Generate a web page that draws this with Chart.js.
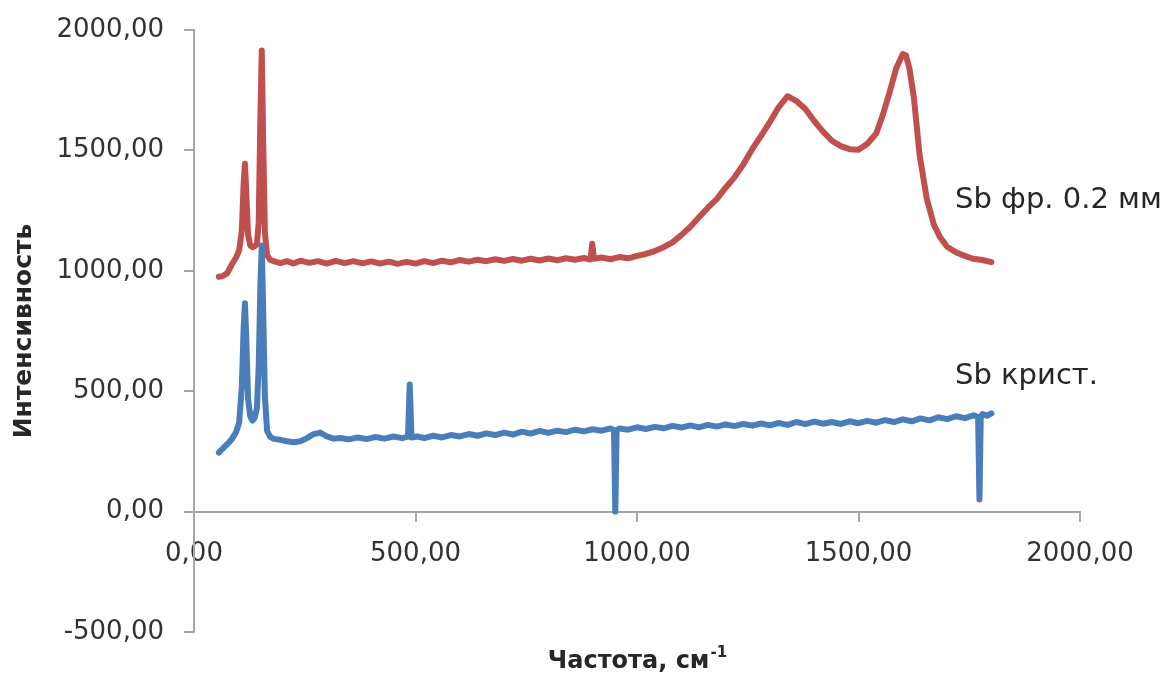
<!DOCTYPE html>
<html lang="ru">
<head>
<meta charset="UTF-8">
<title>Sb spectra</title>
<script src="https://cdn.jsdelivr.net/npm/chart.js"></script>
<style>
  body { margin: 0; background: #fff; }
</style>
</head>
<body>
<canvas id="spectra" width="1169" height="673"></canvas>
<script>
// Sb крист. (blue)
var blueX = [56, 65, 75, 85, 95, 102, 108, 112, 115, 118, 122, 127, 132, 137, 142, 146, 150, 153, 156, 160, 165, 172,
  180, 195, 210, 225, 240, 255, 270, 285, 300, 315, 330, 350, 370, 390, 410, 430, 450, 470, 483, 487, 491,
  505, 520, 540, 560, 580, 600, 620, 640, 660, 680, 700, 720, 740, 760, 780, 800, 820, 840, 860, 880, 900, 920,
  940, 948, 951, 954, 960, 980, 1000, 1020, 1040, 1060, 1080, 1100, 1120, 1140, 1160, 1180, 1200, 1220, 1240,
  1260, 1280, 1300, 1320, 1340, 1360, 1380, 1400, 1420, 1440, 1460, 1480, 1500, 1520, 1540, 1560, 1580, 1600,
  1620, 1640, 1660, 1680, 1700, 1720, 1740, 1760, 1770, 1773, 1776, 1780, 1790, 1800];
var blueY = [245, 262, 280, 300, 330, 370, 520, 760, 865, 720, 470, 395, 378, 390, 430, 600, 950, 1105, 850, 480, 335, 310,
  302, 298, 292, 288, 292, 305, 322, 328, 312, 303, 306, 300, 308, 301, 310, 303, 312, 305, 311, 528, 308,
  312, 305, 315, 308, 318, 312, 322, 315, 325, 318, 328, 320, 332, 324, 335, 327, 336, 330, 340, 333, 342, 336,
  345, 340, 0, 338, 345, 340, 350, 343, 352, 346, 356, 349, 358, 350, 360, 353, 362, 355, 364,
  357, 366, 358, 368, 360, 372, 363, 374, 365, 372, 364, 375, 367, 377, 369, 380, 372, 383,
  375, 387, 379, 392, 384, 396, 388, 400, 393, 50, 395, 405, 398, 408];

// Sb фр. 0.2 мм (red)
var redX = [56, 65, 75, 85, 95, 102, 108, 112, 115, 118, 122, 127, 132, 137, 142, 146, 150, 153, 156, 160, 165, 172,
  180, 195, 210, 225, 240, 260, 280, 300, 320, 340, 360, 380, 400, 420, 440, 460, 480, 500, 520, 540, 560, 580,
  600, 620, 640, 660, 680, 700, 720, 740, 760, 780, 800, 820, 840, 860, 880, 895, 899, 903, 920, 940, 960, 980,
  1000, 1020, 1040, 1060, 1080, 1100, 1120, 1140, 1160, 1180, 1200, 1220, 1240, 1260, 1280, 1300, 1320, 1340,
  1360, 1380, 1400, 1420, 1440, 1460, 1480, 1500, 1520, 1540, 1555, 1570, 1585, 1600, 1607, 1615, 1625, 1638,
  1654, 1670, 1684, 1700, 1722, 1740, 1758, 1780, 1800];
var redY = [975, 978, 990, 1025, 1055, 1085, 1170, 1360, 1445, 1330, 1150, 1105, 1098, 1102, 1110, 1200, 1650, 1915, 1560, 1160, 1065, 1045,
  1040, 1032, 1040, 1030, 1042, 1033, 1040, 1030, 1041, 1032, 1040, 1031, 1039, 1030, 1038, 1029, 1037, 1030, 1040, 1032, 1042, 1035,
  1045, 1038, 1046, 1040, 1048, 1041, 1049, 1042, 1050, 1043, 1051, 1044, 1052, 1046, 1053, 1047, 1112, 1050, 1055, 1048, 1057, 1052,
  1062, 1070, 1082, 1098, 1118, 1148, 1182, 1222, 1262, 1298, 1345, 1388, 1442, 1505, 1560, 1618, 1680, 1725,
  1705, 1672, 1622, 1578, 1540, 1518, 1505, 1503, 1528, 1570, 1648, 1740, 1840, 1900, 1895, 1840, 1720, 1480,
  1300, 1192, 1140, 1100, 1075, 1062, 1050, 1045, 1036];

var xTicks = [0, 500, 1000, 1500, 2000];
var yTicks = [-500, 0, 500, 1000, 1500, 2000];

var noteText = ['Sb фр. 0.2 мм', 'Sb крист.'];
var noteX = [1718, 1718];
var noteY = [1290, 562];

var xTitle = 'Частота, см';
var xTitleSup = '-1';

function toPoints(xs, ys) {
    return xs.map(function (x, i) { return { x: x, y: ys[i] }; });
}

function fmt(v) {
    return v.toFixed(2).replace('.', ',');
}

var axisGray = '#a6a6a6';
var textGray = '#333333';

// series names next to the curves + x axis title with superscript
var notesPlugin = {
    id: 'notes',
    afterDraw: function (chart) {
        var ctx = chart.ctx;
        var xs = chart.scales.x, ys = chart.scales.y;
        var area = chart.chartArea;
        ctx.save();
        ctx.font = '29px "DejaVu Sans"';
        ctx.fillStyle = '#262626';
        ctx.textAlign = 'left';
        ctx.textBaseline = 'middle';
        for (var i = 0; i < noteText.length; i++) {
            ctx.fillText(noteText[i], xs.getPixelForValue(noteX[i]), ys.getPixelForValue(noteY[i]));
        }

        ctx.font = 'bold 24px "DejaVu Sans"';
        var w1 = ctx.measureText(xTitle).width;
        ctx.font = 'bold 15px "DejaVu Sans"';
        var w2 = ctx.measureText(xTitleSup).width;
        var left = (area.left + area.right) / 2 - (w1 + w2) / 2;
        var base = area.bottom + 36;
        ctx.textBaseline = 'alphabetic';
        ctx.font = 'bold 24px "DejaVu Sans"';
        ctx.fillText(xTitle, left, base);
        ctx.font = 'bold 15px "DejaVu Sans"';
        ctx.fillText(xTitleSup, left + w1 + 1, base - 11);
        ctx.restore();
    }
};

new Chart(document.getElementById('spectra'), {
    type: 'scatter',
    data: {
        datasets: [
            {
                label: noteText[1],
                data: toPoints(blueX, blueY),
                showLine: true,
                borderColor: '#4a7ebb',
                borderWidth: 6,
                borderJoinStyle: 'round',
                borderCapStyle: 'round',
                pointRadius: 0,
                tension: 0
            },
            {
                label: noteText[0],
                data: toPoints(redX, redY),
                showLine: true,
                borderColor: '#c0504d',
                borderWidth: 6,
                borderJoinStyle: 'round',
                borderCapStyle: 'round',
                pointRadius: 0,
                tension: 0
            }
        ]
    },
    options: {
        responsive: false,
        animation: false,
        devicePixelRatio: 1,
        layout: { padding: { top: 30, right: 89, left: 0, bottom: 41 } },
        plugins: {
            legend: { display: false },
            tooltip: { enabled: false },
            title: { display: false }
        },
        scales: {
            x: {
                type: 'linear',
                min: 0,
                max: 2000,
                position: { y: 0 },
                afterBuildTicks: function (s) { s.ticks = xTicks.map(function (v) { return { value: v }; }); },
                afterFit: function (s) {
                    s.height = 0;
                    s.paddingLeft = 0;
                    s.paddingRight = 0;
                },
                ticks: {
                    callback: fmt,
                    color: textGray,
                    font: { family: 'DejaVu Sans', size: 26 },
                    padding: 18,
                    maxRotation: 0
                },
                grid: { drawOnChartArea: false, tickLength: 9, color: axisGray, lineWidth: 2 },
                border: { color: axisGray, width: 2 }
            },
            y: {
                min: -500,
                max: 2000,
                afterBuildTicks: function (s) { s.ticks = yTicks.map(function (v) { return { value: v }; }); },
                afterFit: function (s) {
                    s.width = 194;
                    s.paddingTop = 0;
                    s.paddingBottom = 0;
                },
                ticks: {
                    callback: fmt,
                    color: textGray,
                    font: { family: 'DejaVu Sans', size: 26 },
                    padding: 20
                },
                grid: { drawOnChartArea: false, tickLength: 10, color: axisGray, lineWidth: 2 },
                border: { color: axisGray, width: 2 },
                title: {
                    display: true,
                    text: 'Интенсивность',
                    color: '#262626',
                    font: { family: 'DejaVu Sans', size: 25, weight: 'bold' },
                    padding: { top: 9, bottom: 0 }
                }
            }
        }
    },
    plugins: [notesPlugin]
});
</script>
</body>
</html>
